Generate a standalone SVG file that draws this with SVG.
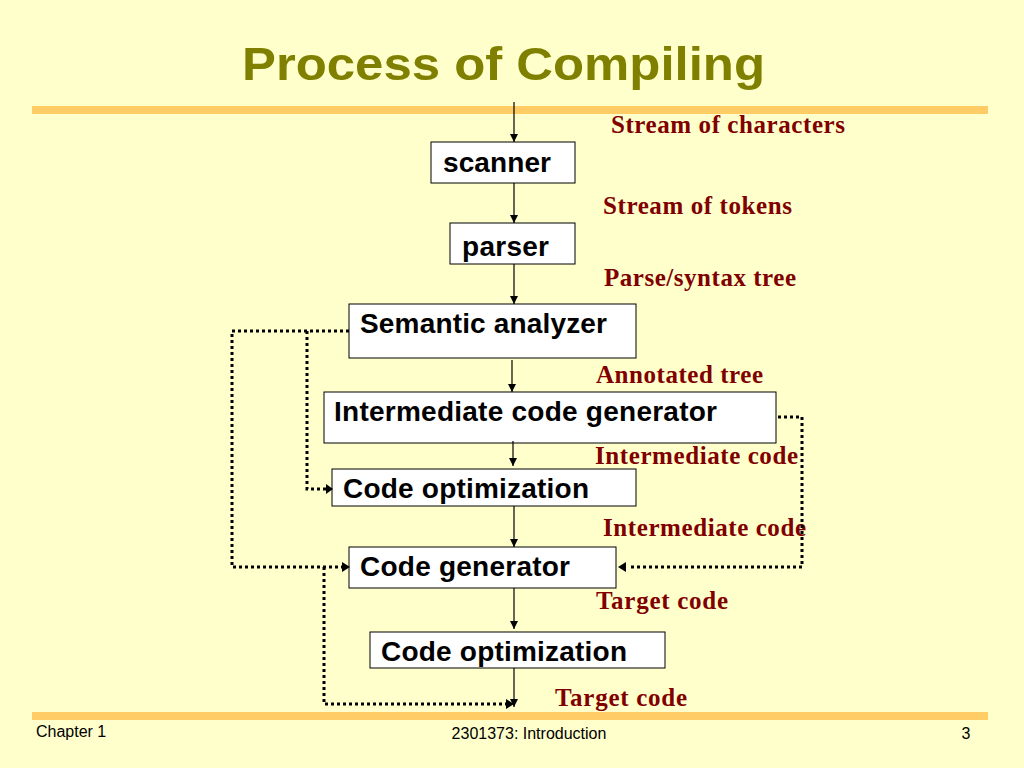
<svg xmlns="http://www.w3.org/2000/svg" width="1024" height="768" viewBox="0 0 1024 768">
<defs>
<marker id="a" viewBox="0 0 10 10" refX="10" refY="5" markerWidth="8" markerHeight="8" markerUnits="userSpaceOnUse" orient="auto"><path d="M0,0L10,5L0,10z" fill="#000"/></marker>
</defs>
<style>
.b{fill:#fff;stroke:#000;stroke-width:1}
.t{font-family:"Liberation Sans",Arial,sans-serif;font-weight:bold;font-size:28px;fill:#000}
.l{font-family:"Liberation Serif","Times New Roman",serif;font-weight:bold;font-size:25px;fill:#800000}
.c{stroke:#000;stroke-width:1.2;fill:none;marker-end:url(#a)}
.d{stroke:#000;stroke-width:3;stroke-dasharray:3,3;fill:none}
.f{font-family:"Liberation Sans",Arial,sans-serif;font-size:16px;fill:#000}
</style>
<rect width="1024" height="768" fill="#ffffcc"/>
<text x="242" y="80" textLength="523" lengthAdjust="spacingAndGlyphs" font-family="Liberation Sans,Arial,sans-serif" font-weight="bold" font-size="46" fill="#808000">Process of Compiling</text>
<rect x="32" y="106" width="956" height="8" fill="#ffcc66"/>
<rect x="32" y="712" width="956" height="8" fill="#ffcc66"/>
<g id="scanner"><rect class="b" x="431" y="142" width="144" height="41"/><text class="t" x="443" y="172" textLength="108">scanner</text></g>
<g id="parser"><rect class="b" x="450" y="223" width="125" height="41"/><text class="t" x="462" y="256" textLength="87">parser</text></g>
<g id="semantic"><rect class="b" x="349" y="304" width="287" height="54"/><text class="t" x="360" y="333" textLength="247">Semantic analyzer</text></g>
<g id="icg"><rect class="b" x="324" y="392" width="452" height="51"/><text class="t" x="334" y="421" textLength="383">Intermediate code generator</text></g>
<g id="opt1"><rect class="b" x="332" y="469" width="304" height="37"/><text class="t" x="343" y="498" textLength="246">Code optimization</text></g>
<g id="codegen"><rect class="b" x="349" y="547" width="267" height="41"/><text class="t" x="360" y="576" textLength="210">Code generator</text></g>
<g id="opt2"><rect class="b" x="370" y="632" width="295" height="36"/><text class="t" x="381" y="661" textLength="246">Code optimization</text></g>
<g id="labels">
<text class="l" x="611" y="133" textLength="234">Stream of characters</text>
<text class="l" x="603" y="214" textLength="189">Stream of tokens</text>
<text class="l" x="604" y="286" textLength="192">Parse/syntax tree</text>
<text class="l" x="596" y="383" textLength="167">Annotated tree</text>
<text class="l" x="595" y="464" textLength="203">Intermediate code</text>
<text class="l" x="603" y="536" textLength="203">Intermediate code</text>
<text class="l" x="596" y="609" textLength="132">Target code</text>
<text class="l" x="555" y="706" textLength="132">Target code</text>
</g>
<g id="connectors">
<path class="c" d="M514,102V142"/>
<path class="c" d="M514,183V223"/>
<path class="c" d="M514,264V304"/>
<path class="c" d="M512,360V392"/>
<path class="c" d="M513,441V466"/>
<path class="c" d="M514,506V547"/>
<path class="c" d="M514,588V629"/>
<path class="c" d="M514,668V707"/>
<path class="d" d="M349,331H232V567H342"/>
<path class="d" d="M307,331V489H326"/>
<path class="d" d="M778,417H802V567H628"/>
<path class="d" d="M324,567V704H508"/>
<path d="M342,562L350,567L342,572z"/>
<path d="M326,484L333,489L326,494z"/>
<path d="M626,562L618,567L626,572z"/>
<path d="M506,699L514,704L506,709z"/>
</g>
<text class="f" x="36" y="737">Chapter 1</text>
<text class="f" x="529" y="739" text-anchor="middle">2301373: Introduction</text>
<text class="f" x="966" y="739" text-anchor="middle">3</text>
</svg>
